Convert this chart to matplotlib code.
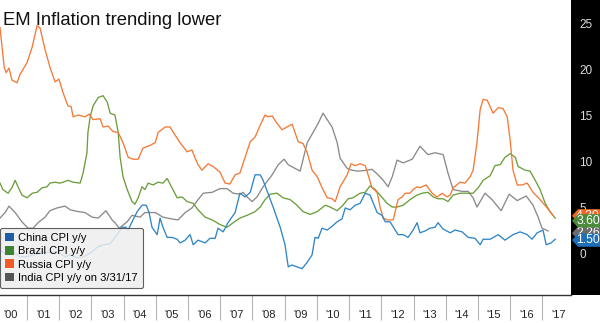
import matplotlib
matplotlib.use('Agg')
import matplotlib.pyplot as plt
import matplotlib.patches as mpatches
from matplotlib.transforms import blended_transform_factory

plt.rcParams['font.family'] = ['Liberation Sans', 'DejaVu Sans']

# --- data (decimal year, % y/y) ---
china_t = [2000.16, 2000.38, 2000.57, 2000.78, 2001.00, 2001.19, 2001.40, 2001.71, 2001.96, 2002.18,
           2002.34, 2002.55, 2002.74, 2002.96, 2003.17, 2003.36, 2003.58, 2003.80, 2003.95, 2004.07,
           2004.14, 2004.26, 2004.42, 2004.57, 2004.70, 2004.79, 2004.88, 2005.04, 2005.13, 2005.22,
           2005.35, 2005.50, 2005.66, 2005.75, 2005.91, 2006.06, 2006.16, 2006.31, 2006.53, 2006.68,
           2006.84, 2006.93, 2007.09, 2007.24, 2007.46, 2007.61, 2007.77, 2007.93, 2008.08, 2008.24,
           2008.33, 2008.48, 2008.64, 2008.86, 2009.01, 2009.11, 2009.23, 2009.38, 2009.54, 2009.70,
           2009.85, 2009.94, 2010.04, 2010.16, 2010.32, 2010.47, 2010.63, 2010.78, 2010.88, 2011.03,
           2011.19, 2011.34, 2011.50, 2011.65, 2011.87, 2012.02, 2012.12, 2012.27, 2012.43, 2012.52,
           2012.68, 2012.83, 2012.99, 2013.11, 2013.20, 2013.36, 2013.51, 2013.67, 2013.76, 2013.92,
           2014.14, 2014.29, 2014.51, 2014.70, 2014.91, 2015.07, 2015.16, 2015.38, 2015.63, 2015.84,
           2016.09, 2016.31, 2016.53, 2016.68, 2016.84, 2017.02, 2017.12, 2017.27, 2017.40]
china_v = [0.4, -0.1, 0.2, -0.3, -0.3, -0.1, 0.1, 0.2, 0.2, -0.3,
           -0.1, -0.4, -0.3, 0.1, 0.7, 1.0, 1.1, 2.1, 2.9, 2.9,
           2.6, 3.5, 4.6, 5.3, 5.3, 4.5, 2.9, 2.1, 3.9, 2.9,
           1.8, 1.8, 1.6, 1.2, 1.5, 2.1, 1.0, 1.5, 1.2, 1.7,
           1.7, 2.8, 2.4, 3.4, 4.5, 6.6, 6.2, 6.7, 8.6, 8.6,
           8.0, 6.6, 5.1, 2.9, 1.0, -1.4, -1.2, -1.4, -1.6, -0.9,
           -0.1, 1.8, 1.7, 2.8, 2.6, 3.0, 3.5, 3.8, 5.0, 4.8,
           5.3, 5.5, 6.6, 6.4, 4.5, 4.2, 3.5, 3.5, 2.6, 2.1,
           2.1, 1.8, 2.6, 3.4, 2.3, 2.5, 2.8, 2.9, 3.4, 2.7,
           2.3, 2.6, 2.4, 1.8, 1.7, 1.0, 1.6, 1.6, 2.1, 1.5,
           2.1, 2.4, 2.1, 1.6, 2.3, 2.6, 1.0, 1.2, 1.6]

brazil_t = [2000.16, 2000.25, 2000.41, 2000.53, 2000.63, 2000.72, 2000.84, 2001.00, 2001.16, 2001.31,
            2001.47, 2001.62, 2001.71, 2001.87, 2002.02, 2002.12, 2002.27, 2002.43, 2002.65, 2002.74,
            2002.86, 2002.89, 2002.96, 2003.05, 2003.21, 2003.36, 2003.49, 2003.58, 2003.73, 2003.83,
            2003.89, 2003.98, 2004.11, 2004.26, 2004.35, 2004.45, 2004.57, 2004.66, 2004.76, 2004.91,
            2005.07, 2005.22, 2005.35, 2005.50, 2005.66, 2005.81, 2005.97, 2006.16, 2006.31, 2006.53,
            2006.75, 2006.99, 2007.21, 2007.40, 2007.61, 2007.83, 2008.08, 2008.24, 2008.39, 2008.55,
            2008.76, 2008.95, 2009.17, 2009.38, 2009.57, 2009.79, 2010.01, 2010.26, 2010.41, 2010.63,
            2010.81, 2010.97, 2011.12, 2011.34, 2011.50, 2011.65, 2011.81, 2011.96, 2012.18, 2012.34,
            2012.49, 2012.68, 2012.89, 2013.11, 2013.27, 2013.45, 2013.61, 2013.76, 2013.92, 2014.07,
            2014.23, 2014.45, 2014.66, 2014.85, 2015.01, 2015.16, 2015.38, 2015.53, 2015.69, 2015.84,
            2016.00, 2016.16, 2016.25, 2016.47, 2016.62, 2016.78, 2016.93, 2017.09, 2017.24, 2017.40]
brazil_v = [7.7, 7.0, 6.6, 7.2, 8.0, 7.3, 6.4, 6.1, 6.6, 6.7,
            7.2, 7.3, 7.7, 7.8, 7.7, 7.8, 8.0, 7.8, 7.7, 8.8,
            11.0, 13.2, 14.9, 16.1, 17.0, 17.2, 16.5, 15.3, 15.1, 13.2,
            10.5, 8.4, 7.0, 5.7, 5.4, 6.1, 7.3, 7.0, 7.7, 7.5,
            7.8, 7.7, 8.2, 7.2, 6.1, 6.2, 5.7, 5.5, 4.8, 4.0,
            3.7, 3.2, 2.9, 3.4, 3.9, 4.2, 4.6, 5.1, 5.9, 6.5,
            6.6, 6.1, 5.9, 5.3, 4.6, 4.3, 4.6, 5.3, 5.1, 4.7,
            5.3, 6.0, 6.1, 6.6, 6.7, 7.4, 7.0, 6.4, 5.5, 5.1,
            5.1, 5.3, 5.9, 6.4, 6.6, 6.7, 6.2, 6.0, 6.0, 5.7,
            6.4, 6.6, 6.6, 6.6, 7.2, 8.0, 8.5, 9.6, 9.7, 10.5,
            10.9, 10.5, 9.5, 9.1, 9.0, 8.0, 7.0, 5.5, 4.6, 3.9]

russia_t = [2000.16, 2000.29, 2000.35, 2000.44, 2000.53, 2000.69, 2000.78, 2001.00, 2001.16, 2001.31,
            2001.40, 2001.56, 2001.71, 2001.87, 2001.99, 2002.12, 2002.27, 2002.37, 2002.43, 2002.59,
            2002.80, 2002.93, 2003.05, 2003.27, 2003.36, 2003.52, 2003.67, 2003.83, 2003.98, 2004.14,
            2004.29, 2004.45, 2004.60, 2004.82, 2004.98, 2005.07, 2005.29, 2005.44, 2005.60, 2005.75,
            2005.97, 2006.12, 2006.22, 2006.31, 2006.43, 2006.62, 2006.78, 2006.99, 2007.15, 2007.30,
            2007.46, 2007.61, 2007.77, 2007.93, 2008.08, 2008.24, 2008.39, 2008.48, 2008.61, 2008.76,
            2008.92, 2009.07, 2009.23, 2009.32, 2009.42, 2009.57, 2009.70, 2009.85, 2010.01, 2010.16,
            2010.32, 2010.47, 2010.57, 2010.72, 2010.94, 2011.06, 2011.19, 2011.34, 2011.50, 2011.59,
            2011.71, 2011.87, 2011.96, 2012.06, 2012.18, 2012.37, 2012.52, 2012.65, 2012.74, 2012.89,
            2012.99, 2013.11, 2013.20, 2013.39, 2013.58, 2013.73, 2013.89, 2014.04, 2014.14, 2014.23,
            2014.45, 2014.60, 2014.76, 2014.85, 2014.97, 2015.07, 2015.16, 2015.29, 2015.38, 2015.47,
            2015.63, 2015.78, 2015.91, 2016.00, 2016.09, 2016.22, 2016.37, 2016.53, 2016.71, 2016.93,
            2017.15, 2017.33]
russia_v = [24.6, 20.3, 19.7, 20.2, 18.9, 18.6, 19.5, 20.8, 22.5, 24.8,
            24.6, 22.2, 20.3, 18.7, 19.0, 17.5, 16.1, 16.0, 14.9, 15.1,
            14.9, 15.2, 14.6, 14.7, 13.8, 13.9, 13.3, 13.2, 12.1, 10.5,
            10.3, 10.3, 11.5, 11.8, 12.1, 13.2, 13.8, 13.8, 12.9, 12.1,
            11.1, 11.3, 10.4, 9.7, 9.1, 9.8, 9.5, 8.9, 7.7, 7.6,
            8.6, 8.8, 10.5, 12.2, 12.7, 14.0, 15.1, 14.9, 15.0, 14.2,
            13.5, 13.8, 14.1, 13.2, 12.2, 12.0, 11.0, 9.1, 8.4, 7.2,
            6.1, 6.0, 5.7, 7.3, 8.6, 9.8, 9.6, 9.8, 9.6, 8.6,
            7.2, 6.7, 5.1, 3.9, 3.7, 3.7, 5.9, 6.2, 6.6, 6.6,
            7.0, 7.3, 7.2, 7.5, 6.6, 6.2, 6.6, 6.2, 6.4, 7.2,
            7.8, 7.7, 8.4, 9.1, 12.1, 15.7, 16.8, 16.7, 16.0, 15.3,
            15.9, 15.8, 14.9, 12.4, 9.1, 7.5, 7.5, 7.7, 6.7, 5.9,
            5.0, 4.2]

india_t = [2000.16, 2000.32, 2000.44, 2000.63, 2000.84, 2001.03, 2001.19, 2001.34, 2001.56, 2001.71,
           2001.93, 2002.18, 2002.34, 2002.59, 2002.80, 2003.02, 2003.21, 2003.45, 2003.64, 2003.73,
           2003.86, 2004.11, 2004.26, 2004.51, 2004.66, 2004.98, 2005.22, 2005.50, 2005.69, 2005.91,
           2006.12, 2006.31, 2006.47, 2006.75, 2006.99, 2007.21, 2007.40, 2007.61, 2007.71, 2007.83,
           2007.99, 2008.14, 2008.33, 2008.61, 2008.80, 2008.98, 2009.11, 2009.32, 2009.48, 2009.70,
           2009.88, 2010.04, 2010.19, 2010.47, 2010.63, 2010.72, 2010.94, 2011.09, 2011.28, 2011.56,
           2011.71, 2011.90, 2012.06, 2012.21, 2012.34, 2012.49, 2012.68, 2012.96, 2013.20, 2013.45,
           2013.67, 2013.92, 2014.07, 2014.23, 2014.51, 2014.70, 2014.85, 2014.97, 2015.22, 2015.44,
           2015.72, 2015.97, 2016.22, 2016.50, 2016.71, 2016.87, 2016.99, 2017.18]
india_v = [3.9, 4.5, 5.2, 4.5, 3.5, 2.8, 2.8, 3.4, 4.0, 4.7,
           5.0, 5.2, 4.8, 4.6, 4.5, 4.0, 3.9, 4.7, 3.7, 3.4,
           2.8, 3.5, 4.2, 4.0, 4.5, 4.5, 4.0, 3.8, 3.7, 4.5,
           5.0, 5.9, 6.6, 6.7, 7.1, 7.1, 6.6, 6.5, 6.7, 6.2,
           5.7, 6.2, 7.3, 8.6, 9.7, 10.3, 9.7, 9.3, 9.0, 12.1,
           13.2, 14.2, 15.3, 13.8, 12.1, 10.4, 9.3, 9.1, 9.0, 9.1,
           9.2, 8.6, 8.0, 7.3, 8.4, 10.2, 9.9, 10.3, 11.7, 10.8,
           11.0, 10.8, 8.8, 7.0, 6.8, 6.8, 6.1, 5.1, 6.6, 5.9,
           4.7, 6.5, 5.8, 6.3, 5.3, 4.0, 2.8, 2.5]

legend_names = ['China CPI y/y', 'Brazil CPI y/y', 'Russia CPI y/y', 'India CPI y/y on 3/31/17']
legend_colors = ['#1c5fa6', '#3f8434', '#f15a24', '#555555']

# last-value tags on the right (drawn bottom to top, they overlap as in the original)
tag_values = [4.15, 2.26, 3.6, 1.5]
tag_texts = ['4.30', '2.26', '3.60', '1.50']
tag_colors = ['#f26522', '#6b6b6b', '#4a8a3a', '#1f6fb6']

year_labels = ["'%02d" % (y % 100) for y in range(2000, 2018)]
y_ticks = [0, 5, 10, 15, 20, 25]

# ------------- figure -------------
fig = plt.figure(figsize=(6, 3.23), dpi=100)
ax = fig.add_axes([0, 28 / 323, 571 / 600, 295 / 323])

# black value panel at the right
fig.add_artist(mpatches.Rectangle((571 / 600, 28 / 323), 29 / 600, 295 / 323,
                                  transform=fig.transFigure, facecolor='black',
                                  edgecolor='none', zorder=-1))

ax.plot(india_t, india_v, color='#8a8a8a', lw=0.95)
ax.plot(brazil_t, brazil_v, color='#6b9e3c', lw=0.95)
ax.plot(russia_t, russia_v, color='#f47a36', lw=0.95)
ax.plot(china_t, china_v, color='#2f86c6', lw=0.95)

ax.set_xlim(2000.16, 2017.89)
ax.set_ylim(-4.46, 27.6)

for s in ['top', 'left', 'right']:
    ax.spines[s].set_visible(False)
ax.spines['bottom'].set_color('#333333')
ax.spines['bottom'].set_linewidth(1.0)

# year separators and centred labels
ax.set_xticks(list(range(2001, 2018)))
ax.set_xticklabels([])
ax.tick_params(axis='x', which='major', length=18, width=0.8, color='#b5b5b5', direction='out')
ax.set_xticks([y + 0.5 for y in range(2000, 2018)], minor=True)
ax.set_xticklabels(year_labels, minor=True)
ax.tick_params(axis='x', which='minor', length=0, pad=11, labelsize=8, labelcolor='#222222')

ax.yaxis.tick_right()
ax.set_yticks(y_ticks)
ax.tick_params(axis='y', length=0, pad=6, labelsize=8.5, labelcolor='#dddddd')

ax.text(0.005, 1 - 25 / 295, 'EM Inflation trending lower', transform=ax.transAxes,
        fontsize=13.3, color='#111111', ha='left', va='baseline')

handles = [mpatches.Patch(facecolor=c, edgecolor='none', label=n)
           for n, c in zip(legend_names, legend_colors)]
leg = ax.legend(handles=handles, loc='lower left', bbox_to_anchor=(0, 7 / 295),
                borderaxespad=0, fontsize=8, frameon=True, fancybox=True,
                framealpha=0.85, facecolor='#eeeeee', edgecolor='#444444',
                handlelength=0.8, handleheight=0.8, handletextpad=0.4,
                labelspacing=0.3, borderpad=0.45)
leg.get_frame().set_linewidth(0.8)

# value tags
trans = blended_transform_factory(ax.transAxes, ax.transData)
h = 0.72
x0, x1, x2 = 1 + 1 / 571, 1 + 7 / 571, 1 + 35 / 571
for i, (v, t, c) in enumerate(zip(tag_values, tag_texts, tag_colors)):
    poly = mpatches.Polygon([(x0, v), (x1, v + h), (x2, v + h), (x2, v - h), (x1, v - h)],
                            closed=True, transform=trans, facecolor=c, edgecolor='none',
                            clip_on=False, zorder=5 + 2 * i)
    ax.add_patch(poly)
    ax.text(1 + 17 / 571, v, t, transform=trans, color='white', fontsize=8.7,
            ha='center', va='center', clip_on=False, zorder=6 + 2 * i)

plt.savefig('out.png', dpi=100)
